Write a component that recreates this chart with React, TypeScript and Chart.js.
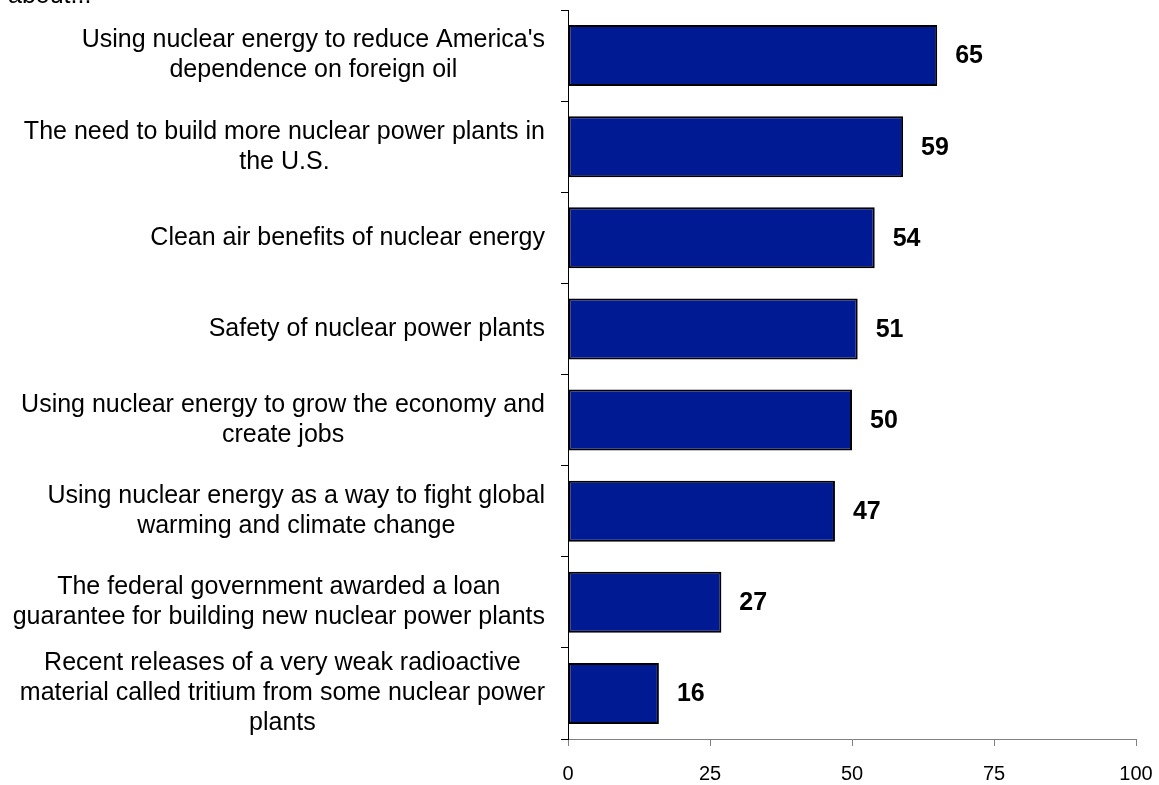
import { useEffect, useRef } from "react";
import { Chart, registerables } from "chart.js";

Chart.register(...registerables);

const categories: string[][] = [
  ["Using nuclear energy to reduce America's", "dependence on foreign oil"],
  ["The need to build more nuclear power plants in", "the U.S."],
  ["Clean air benefits of nuclear energy"],
  ["Safety of nuclear power plants"],
  ["Using nuclear energy to grow the economy and", "create jobs"],
  ["Using nuclear energy as a way to fight global", "warming and climate change"],
  ["The federal government awarded a loan", "guarantee for building new nuclear power plants"],
  ["Recent releases of a very weak radioactive", "material called tritium from some nuclear power", "plants"],
];
const values: number[] = [65, 59, 54, 51, 50, 47, 27, 16];
const xTickValues: number[] = [0, 25, 50, 75, 100];
const headerText = "about...";

const FONT = "'Liberation Sans', Arial, sans-serif";

const labelPlugin = {
  id: "customLabels",
  afterDraw(chart: any) {
    const ctx = chart.ctx;
    const yScale = chart.scales.y;
    const xScale = chart.scales.x;
    const labels = chart.data.labels as string[][];
    ctx.save();
    // header (cut off at top)
    ctx.fillStyle = "#000";
    ctx.font = `25px ${FONT}`;
    ctx.textAlign = "left";
    ctx.textBaseline = "alphabetic";
    ctx.fillText(headerText, 8, 3);

    // category labels
    const rightEdge = yScale.right - 23;
    const lineH = 30;
    labels.forEach((lines, i) => {
      const cy = yScale.getPixelForValue(i);
      let maxW = 0;
      lines.forEach((l) => {
        maxW = Math.max(maxW, ctx.measureText(l).width);
      });
      const cx = rightEdge - maxW / 2;
      ctx.textAlign = "center";
      ctx.textBaseline = "middle";
      const startY = cy - ((lines.length - 1) * lineH) / 2;
      lines.forEach((l, k) => ctx.fillText(l, cx, startY + k * lineH));
    });

    // value labels
    ctx.font = `bold 25px ${FONT}`;
    ctx.textAlign = "left";
    ctx.textBaseline = "middle";
    const meta = chart.getDatasetMeta(0);
    meta.data.forEach((bar: any, i: number) => {
      const v = chart.data.datasets[0].data[i];
      const x = xScale.getPixelForValue(v) + 18;
      ctx.fillText(String(v), x, bar.y + 1);
    });
    ctx.restore();
  },
};

export default function App() {
  const ref = useRef<HTMLCanvasElement | null>(null);
  useEffect(() => {
    if (!ref.current) return;
    const chart = new Chart(ref.current, {
      type: "bar",
      data: {
        labels: categories as any,
        datasets: [
          {
            data: values,
            backgroundColor: "#001A94",
            borderColor: "#000000",
            borderWidth: 2,
            borderSkipped: false,
            barPercentage: 0.67,
            categoryPercentage: 1,
          },
        ],
      },
      options: {
        indexAxis: "y",
        animation: false,
        responsive: false,
        maintainAspectRatio: false,
        layout: { padding: { top: 10, right: 23, left: 0, bottom: 0 } },
        plugins: {
          legend: { display: false },
          tooltip: { enabled: false },
          title: { display: false },
        },
        scales: {
          x: {
            type: "linear",
            min: 0,
            max: 100,
            afterBuildTicks: (scale: any) => {
              scale.ticks = xTickValues.map((v) => ({ value: v }));
            },
            afterFit: (scale: any) => {
              scale.height = 46;
              scale.paddingRight = 0;
              scale.paddingLeft = 0;
            },
            ticks: {
              color: "#000",
              font: { family: FONT, size: 20 },
              padding: 16,
            },
            grid: {
              drawOnChartArea: false,
              drawTicks: true,
              tickLength: 7,
              color: "#808080",
            },
            border: { display: true, color: "#808080", width: 1 },
          },
          y: {
            type: "category",
            offset: true,
            afterFit: (scale: any) => {
              scale.width = 568;
              scale.paddingTop = 0;
              scale.paddingBottom = 0;
            },
            ticks: { display: false },
            grid: {
              offset: true,
              drawOnChartArea: false,
              drawTicks: true,
              tickLength: 7,
              color: "#000",
            },
            border: { display: true, color: "#000", width: 1 },
          },
        },
      },
      plugins: [labelPlugin],
    });
    return () => chart.destroy();
  }, []);
  return (
    <div style={{ position: "absolute", left: 0, top: 0, width: 1159, height: 785 }}>
      <canvas ref={ref} width={1159} height={785} style={{ width: 1159, height: 785 }} />
    </div>
  );
}
